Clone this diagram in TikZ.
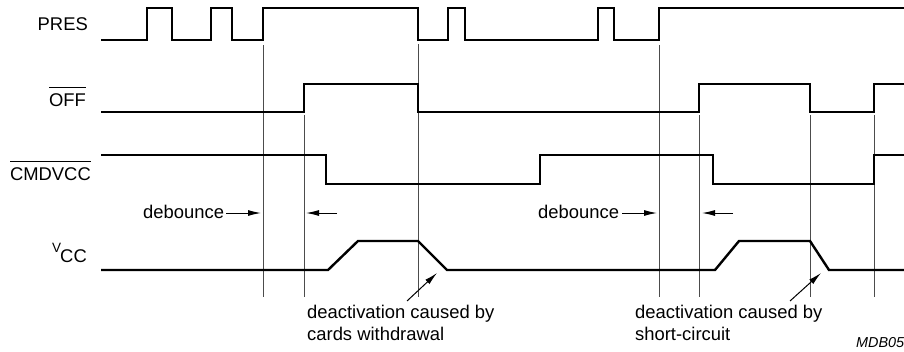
\documentclass[tikz,border=0pt]{standalone}
\usepackage{fontspec}
\setmainfont{Liberation Sans}
\usetikzlibrary{arrows.meta}
\newcommand{\ovlbar}[1]{\vbox{\hrule height 0.9pt \kern 5pt \hbox{#1}}}
\begin{document}
\begin{tikzpicture}[x=1pt,y=-1pt,
  sig/.style={line width=2.4pt, line join=miter, line cap=butt},
  guide/.style={line width=0.9pt, black!70},
  arr/.style={line width=1pt, -{Latex[length=13pt,width=6pt]}},
  lbl/.style={inner sep=0pt, font=\fontsize{18.4}{22}\selectfont},
  tag/.style={inner sep=0pt, font=\fontsize{14.4}{16}\selectfont\itshape}]
\useasboundingbox (0,0) rectangle (904,351);

% guide lines
\foreach \x/\a/\b in {263/45/297, 304/115/297, 418/44/297, 659/45/297,
                      699/115/297, 810/115/297, 874/115/297}
  \draw[guide] (\x,\a) -- (\x,\b);

% PRES
\draw[sig] (101,40) -- (147,40) -- (147,8) -- (172,8) -- (172,40) -- (211,40) -- (211,8)
  -- (232,8) -- (232,40) -- (263,40) -- (263,8) -- (418,8) -- (418,40) -- (448,40)
  -- (448,8) -- (465,8) -- (465,40) -- (598,40) -- (598,8) -- (614,8) -- (614,40)
  -- (659,40) -- (659,8) -- (904,8);
% OFF
\draw[sig] (101,112) -- (304,112) -- (304,84) -- (418,84) -- (418,112) -- (699,112)
  -- (699,84) -- (810,84) -- (810,112) -- (874,112) -- (874,84) -- (904,84);
% CMDVCC
\draw[sig] (101,155) -- (326,155) -- (326,184) -- (540,184) -- (540,155) -- (713,155)
  -- (713,184) -- (874,184) -- (874,155) -- (904,155);
% VCC
\draw[sig] (101,270) -- (328,270) -- (358,241) -- (418,241) -- (447,270) -- (715,270)
  -- (739,241) -- (810,241) -- (829,270) -- (904,270);

% labels
\node[lbl, anchor=base east] (lpres) at (88,30) {PRES};
\node[lbl, anchor=base east] (loff) at (86,106) {\ovlbar{OFF}};
\node[lbl, anchor=base east] (lcmd) at (91,180) {\ovlbar{CMDVCC}};
\node[lbl, anchor=base east] (lvcc) at (87,262) {\raisebox{10pt}{\fontsize{13.5}{15}\selectfont V}\kern-1pt CC};

% debounce
\node[lbl, anchor=base west] (deb1) at (143,218) {debounce};
\node[lbl, anchor=base west] (deb2) at (538,218) {debounce};
\coordinate (d1a) at (226,213); \coordinate (d1b) at (261,213);
\coordinate (d1c) at (337,213); \coordinate (d1d) at (306,213);
\coordinate (d2a) at (622,213); \coordinate (d2b) at (657,213);
\coordinate (d2c) at (733,213); \coordinate (d2d) at (702,213);
\draw[arr] (d1a) -- (d1b);
\draw[arr] (d1c) -- (d1d);
\draw[arr] (d2a) -- (d2b);
\draw[arr] (d2c) -- (d2d);

% deactivation notes
\node[lbl, anchor=base west] (n1a) at (307,318) {deactivation caused by};
\node[lbl, anchor=base west] (n1b) at (307,340) {cards withdrawal};
\node[lbl, anchor=base west] (n2a) at (635,318) {deactivation caused by};
\node[lbl, anchor=base west] (n2b) at (635,340) {short-circuit};
\coordinate (a1s) at (407,301); \coordinate (a1e) at (437,273);
\coordinate (a2s) at (790,301); \coordinate (a2e) at (821,273);
\draw[arr] (a1s) -- (a1e);
\draw[arr] (a2s) -- (a2e);

\node[tag, anchor=base west] (mdb) at (856,347) {MDB05};
\end{tikzpicture}
\end{document}
